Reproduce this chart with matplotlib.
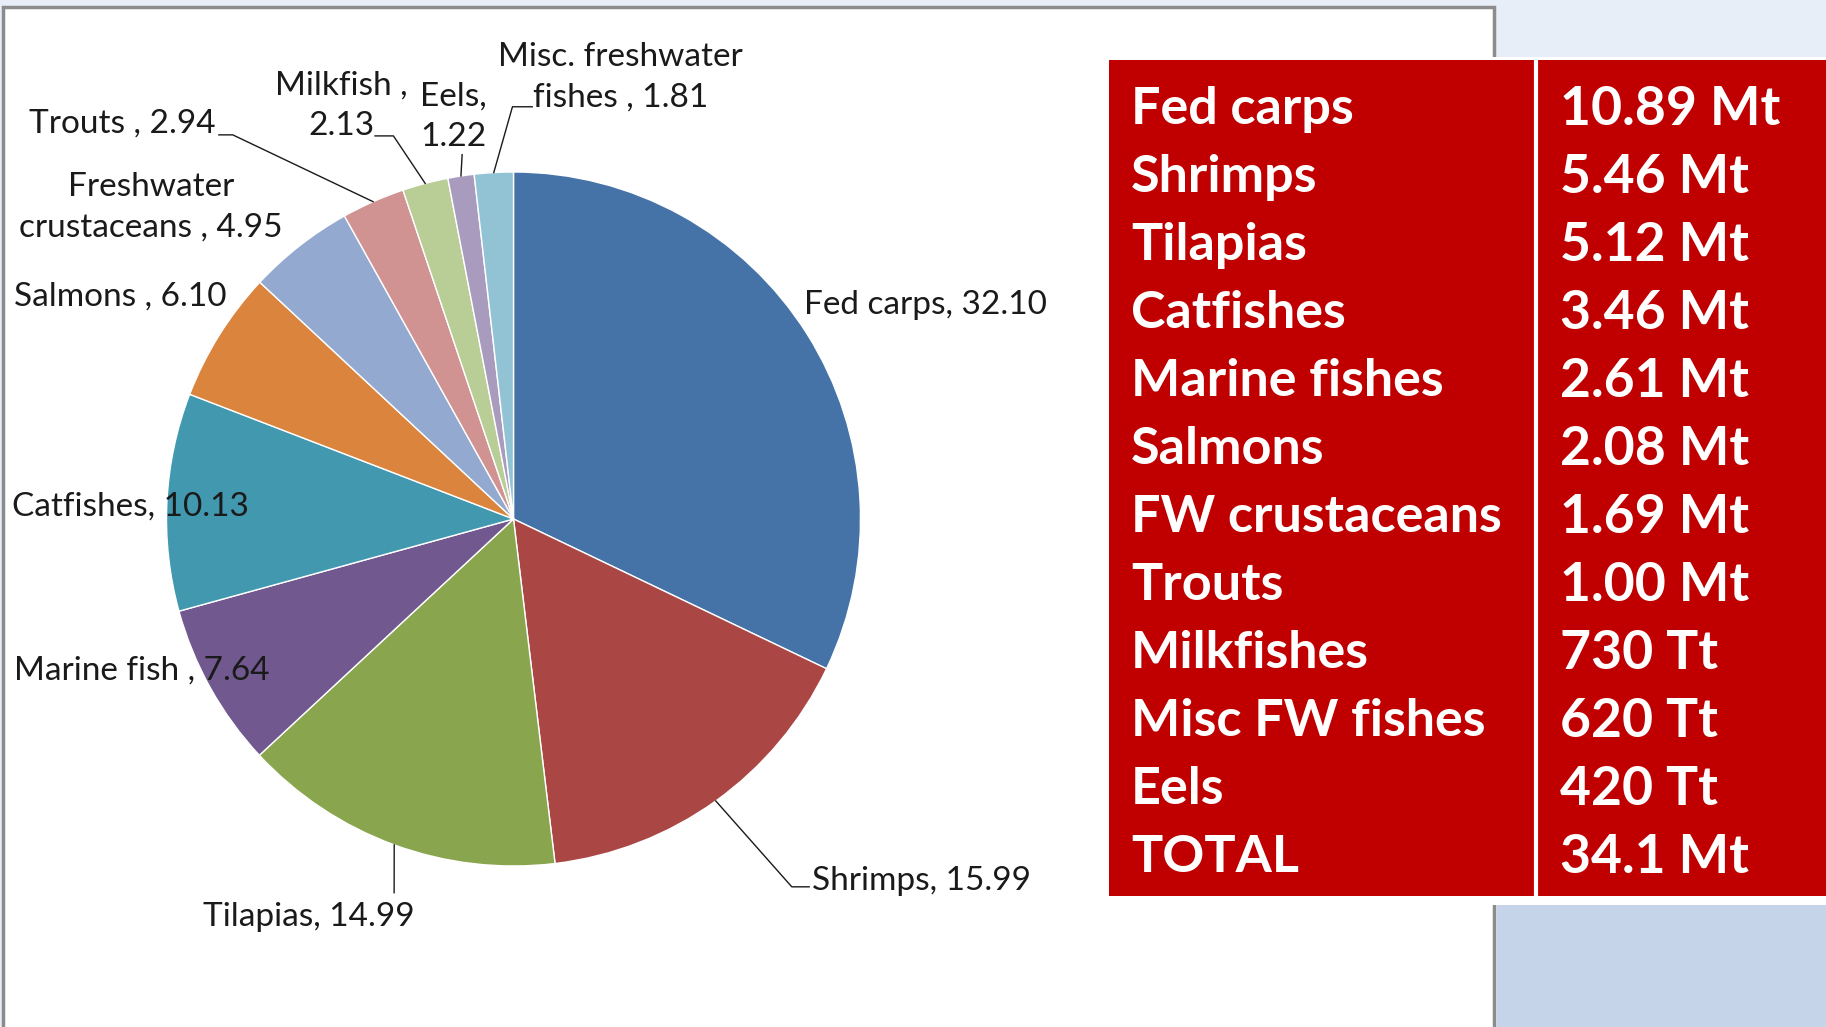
import numpy as np
import matplotlib.pyplot as plt
from matplotlib.patches import Rectangle

# pie data (percent share)
pie_names = ['Fed carps', 'Shrimps', 'Tilapias', 'Marine fish ', 'Catfishes', 'Salmons ',
             'Freshwater\ncrustaceans ', 'Trouts ', 'Milkfish ,\n', 'Eels,\n', 'Misc. freshwater\nfishes ']
pie_values = [32.10, 15.99, 14.99, 7.64, 10.13, 6.10, 4.95, 2.94, 2.13, 1.22, 1.81]
pie_colors = ['#4572A7', '#AA4643', '#89A54E', '#71588F', '#4198AF', '#DB843D',
              '#93A9CF', '#D19392', '#B9CD96', '#A99BBD', '#92C3D5']

# table data
table_names = ['Fed carps', 'Shrimps', 'Tilapias', 'Catfishes', 'Marine fishes', 'Salmons',
               'FW crustaceans', 'Trouts', 'Milkfishes', 'Misc FW fishes', 'Eels', 'TOTAL']
table_values = ['10.89 Mt', '5.46 Mt', '5.12 Mt', '3.46 Mt', '2.61 Mt', '2.08 Mt',
                '1.69 Mt', '1.00 Mt', '730 Tt', '620 Tt', '420 Tt', '34.1 Mt']

plt.rcParams['font.family'] = ['Lato', 'DejaVu Sans']

W, H = 1826, 1027
R = 347.0          # pie radius in pixels
cx, cy = 513.5, 519.0

fig = plt.figure(figsize=(W / 100, H / 100), dpi=100)
fig.patch.set_facecolor('#e8eef7')

# background / panel / table (pixel coords, y down)
bg = fig.add_axes([0, 0, 1, 1])
bg.set_xlim(0, W)
bg.set_ylim(H, 0)
bg.axis('off')
bg.add_patch(Rectangle((3, 7), 1491, 1030, facecolor='white', edgecolor='#8c8c8c', linewidth=2.5))
bg.add_patch(Rectangle((1497, 905), 329, 130, facecolor='#c5d4e8', edgecolor='none'))
bg.add_patch(Rectangle((1106, 57), 730, 848, facecolor='white', edgecolor='none'))
bg.add_patch(Rectangle((1109, 60), 727, 836, facecolor='#c00000', edgecolor='none'))
bg.plot([1536, 1536], [60, 896], color='white', linewidth=3)

for i, (name, val) in enumerate(zip(table_names, table_values)):
    y = 109.5 + 68 * i
    bg.text(1131, y, name, color='white', fontsize=37.5, fontweight='bold', va='center', ha='left')
    bg.text(1560, y, val, color='white', fontsize=38.5, fontweight='bold', va='center', ha='left')

# pie axes, 1 data unit = R pixels
ax = fig.add_axes([0, 0, 1, 1])
ax.patch.set_alpha(0)
wedges, _ = ax.pie(pie_values, colors=pie_colors, startangle=90, counterclock=False,
                   radius=1, wedgeprops=dict(edgecolor='white', linewidth=1))
ax.set_xlim(-cx / R, (W - cx) / R)
ax.set_ylim(-(H - cy) / R, cy / R)
ax.set_aspect('auto')
ax.axis('off')

# label placement: (x, y, ha) and leader waypoints after the rim point
label_pos = [(0.836, 0.618, 'left'), (0.859, -1.042, 'left'), (-0.591, -1.146, 'center'),
             (-1.440, -0.438, 'left'), (-1.446, 0.036, 'left'), (-1.440, 0.640, 'left'),
             (-1.044, 0.898, 'center'), (-0.859, 1.140, 'right'), (-0.497, 1.190, 'center'),
             (-0.174, 1.159, 'center'), (0.309, 1.272, 'center')]
leaders = [None, [(0.802, -1.060), (0.852, -1.060)], [(-0.344, -1.077)], None, None, None, None,
           [(-0.809, 1.107), (-0.849, 1.107)], [(-0.346, 1.104), (-0.399, 1.104)],
           [(-0.148, 1.050)], [(-0.003, 1.188), (0.054, 1.188)]]

for w, name, val, (lx, ly, ha), path in zip(wedges, pie_names, pie_values, label_pos, leaders):
    sep = '' if name.endswith('\n') else ', '
    ax.text(lx, ly, f'{name}{sep}{val:.2f}', fontsize=24, color='#1a1a1a',
            ha=ha, va='center', linespacing=1.45, multialignment='center')
    if path:
        mid = np.deg2rad((w.theta1 + w.theta2) / 2)
        pts = [(np.cos(mid), np.sin(mid))] + path
        xs, ys = zip(*pts)
        ax.plot(xs, ys, color='#1a1a1a', linewidth=1)

fig.savefig('out.png', dpi=100, facecolor=fig.get_facecolor())
